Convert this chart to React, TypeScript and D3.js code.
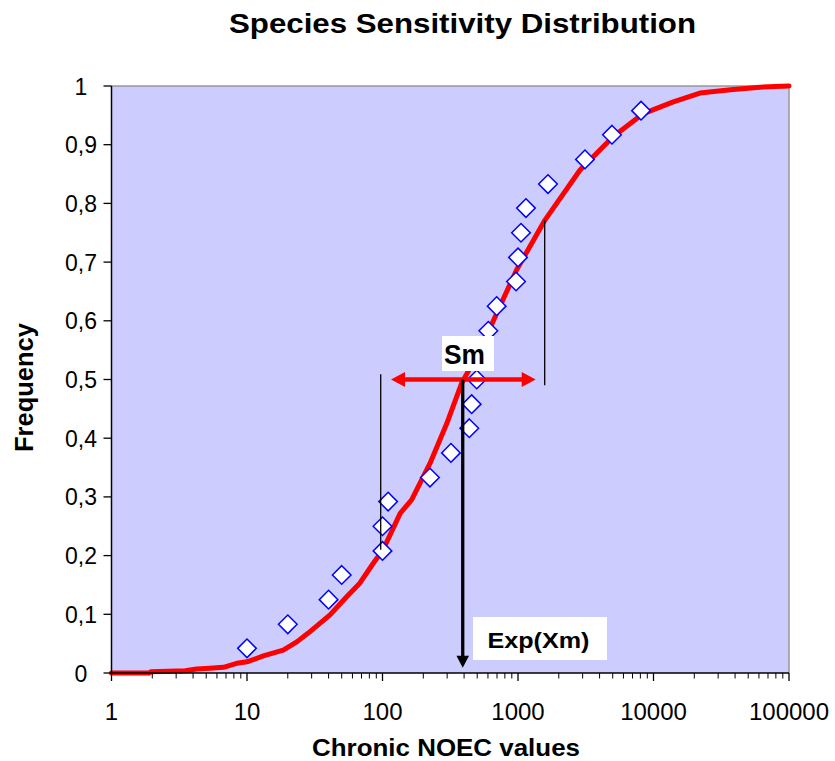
import React from "react";
import * as d3 from "d3";

// ---- data ----
const pointX = [10, 20, 40, 50, 100, 100, 110, 224, 320, 437, 455, 496, 530, 604, 696, 967, 1000, 1052, 1145, 1664, 3120, 4940, 8090];
const pointP = [0.042, 0.083, 0.125, 0.167, 0.208, 0.25, 0.292, 0.333, 0.375, 0.417, 0.458, 0.5, 0.542, 0.583, 0.625, 0.667, 0.708, 0.75, 0.792, 0.833, 0.875, 0.917, 0.958];

const curveX = [1, 1.9, 1.95, 3.5, 4.25, 5.3, 6.7, 8.4, 10, 13.2, 18.5, 23.3, 28.3, 41, 54.4, 68, 85.5, 101, 135, 164, 224, 298, 384, 525, 697, 978, 1585, 2870, 5050, 8410, 14000, 22000, 38700, 61000, 100000];
const curveP = [0, 0, 0.002, 0.004, 0.0068, 0.008, 0.0097, 0.0165, 0.019, 0.029, 0.039, 0.053, 0.068, 0.099, 0.13, 0.153, 0.187, 0.21, 0.272, 0.295, 0.357, 0.425, 0.494, 0.55, 0.613, 0.687, 0.772, 0.857, 0.914, 0.953, 0.973, 0.988, 0.994, 0.998, 1.0];

const xTickValues = [1, 10, 100, 1000, 10000, 100000];
const xTickLabels = ["1", "10", "100", "1000", "10000", "100000"];
const yTickValues = [0, 0.1, 0.2, 0.3, 0.4, 0.5, 0.6, 0.7, 0.8, 0.9, 1];
const yTickLabels = ["0", "0,1", "0,2", "0,3", "0,4", "0,5", "0,6", "0,7", "0,8", "0,9", "1"];

// annotations (data units)
const smArrow = { x1: 115.6, x2: 1351, p: 0.5 };
const expArrow = { x: 391, p1: 0.5, p2: 0.009 };
const leftLine = { x: 97, p1: 0.509, p2: 0.21 };
const rightLine = { x: 1574, p1: 0.771, p2: 0.49 };

const title = "Species Sensitivity Distribution";
const xTitle = "Chronic NOEC values";
const yTitle = "Frequency";

export default function App() {
  const W = 835, H = 761;
  const L = 111.5, R = 789, T = 86, B = 673;
  const x = d3.scaleLog().domain([1, 100000]).range([L, R]);
  const y = d3.scaleLinear().domain([0, 1]).range([B, T]);
  const font = "'Liberation Sans', Arial, Helvetica, sans-serif";

  const line = d3.line<number>().x((_, i) => x(curveX[i])).y((d) => y(d));

  // minor ticks
  const minor: number[] = [];
  for (let e = 0; e < 5; e++) for (let k = 2; k <= 9; k++) minor.push(k * Math.pow(10, e));

  const ds = 9.3;
  const diamond = (cx: number, cy: number) =>
    `M${cx},${cy - ds}L${cx + ds},${cy}L${cx},${cy + ds}L${cx - ds},${cy}Z`;

  const smY = y(smArrow.p);
  const sx1 = x(smArrow.x1), sx2 = x(smArrow.x2);
  const ah = 14, aw = 7.5;
  const ex = x(expArrow.x), ey1 = y(expArrow.p1), ey2 = y(expArrow.p2);

  return (
    <svg width={W} height={H} style={{ position: "absolute", left: 0, top: 0, background: "#fff" }} fontFamily={font}>
      <text x={462.5} y={33} textAnchor="middle" fontSize={28} fontWeight="bold" textLength={467} lengthAdjust="spacingAndGlyphs">{title}</text>
      <rect x={L} y={T} width={R - L} height={B - T} fill="#CCCCFF" />
      <line x1={L} x2={R} y1={T} y2={T} stroke="#999" strokeWidth={1.5} />
      <line x1={R} x2={R} y1={T} y2={B} stroke="#999" strokeWidth={1.5} />

      <path d={line(curveP) || ""} fill="none" stroke="#FF0000" strokeWidth={5} strokeLinejoin="round" strokeLinecap="round" />

      {pointX.map((v, i) => (
        <path key={i} d={diamond(x(v), y(pointP[i]))} fill="#fff" stroke="#0000FF" strokeWidth={1.5} />
      ))}

      <line x1={x(leftLine.x)} x2={x(leftLine.x)} y1={y(leftLine.p1)} y2={y(leftLine.p2)} stroke="#000" strokeWidth={1.3} />
      <line x1={x(rightLine.x)} x2={x(rightLine.x)} y1={y(rightLine.p1)} y2={y(rightLine.p2)} stroke="#000" strokeWidth={1.3} />

      {/* Sm arrow */}
      <line x1={sx1 + ah - 2} x2={sx2 - ah + 2} y1={smY} y2={smY} stroke="#FF0000" strokeWidth={4.3} />
      <path d={`M${sx1},${smY}L${sx1 + ah},${smY - aw}L${sx1 + ah},${smY + aw}Z`} fill="#FF0000" />
      <path d={`M${sx2},${smY}L${sx2 - ah},${smY - aw}L${sx2 - ah},${smY + aw}Z`} fill="#FF0000" />

      {/* Exp arrow */}
      <line x1={ex} x2={ex} y1={ey1} y2={ey2 - 11} stroke="#000" strokeWidth={3.3} />
      <path d={`M${ex},${ey2}L${ex - 6.3},${ey2 - 12}L${ex + 6.3},${ey2 - 12}Z`} fill="#000" />

      {/* labels */}
      <rect x={442} y={336} width={52} height={35} fill="#fff" />
      <text x={444} y={364} fontSize={28} fontWeight="bold" textLength={41} lengthAdjust="spacingAndGlyphs">Sm</text>
      <rect x={473} y={617} width={134} height={43} fill="#fff" />
      <text x={487.5} y={648.3} fontSize={22} fontWeight="bold" textLength={102} lengthAdjust="spacingAndGlyphs">Exp(Xm)</text>

      {/* axes */}
      <line x1={L} x2={L} y1={T} y2={B} stroke="#000" strokeWidth={1.5} />
      <line x1={L} x2={R} y1={B} y2={B} stroke="#000" strokeWidth={1.5} />
      {yTickValues.map((v, i) => (
        <g key={i}>
          <line x1={L - 8} x2={L} y1={y(v)} y2={y(v)} stroke="#000" strokeWidth={1.3} />
          <text x={81} y={y(v) + 8.5} textAnchor="middle" fontSize={23}>{yTickLabels[i]}</text>
        </g>
      ))}
      {xTickValues.map((v, i) => (
        <g key={i}>
          <line x1={x(v)} x2={x(v)} y1={B} y2={B + 8} stroke="#000" strokeWidth={1.3} />
          <text x={x(v)} y={720} textAnchor="middle" fontSize={24}>{xTickLabels[i]}</text>
        </g>
      ))}
      {minor.map((v, i) => (
        <line key={i} x1={x(v)} x2={x(v)} y1={B} y2={B + 5.5} stroke="#000" strokeWidth={1} />
      ))}
      <text x={446} y={756} textAnchor="middle" fontSize={24} fontWeight="bold" textLength={268} lengthAdjust="spacingAndGlyphs">{xTitle}</text>
      <text transform={`translate(33,387.5) rotate(-90)`} textAnchor="middle" fontSize={25} fontWeight="bold" textLength={129} lengthAdjust="spacingAndGlyphs">{yTitle}</text>
    </svg>
  );
}
